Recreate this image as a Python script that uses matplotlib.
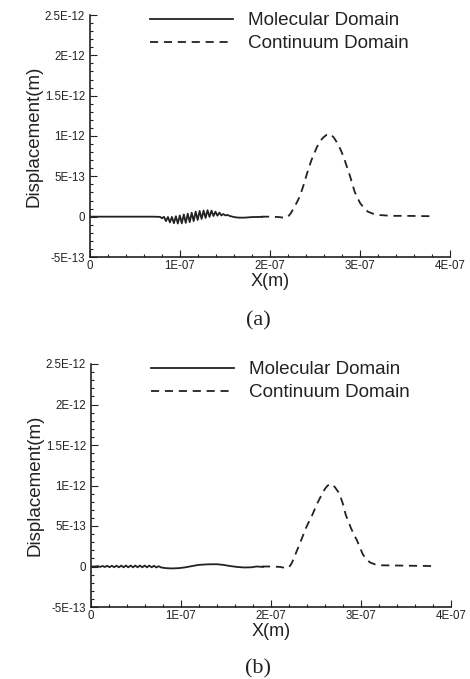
import matplotlib
matplotlib.use("Agg")
from matplotlib import pyplot as plt
from matplotlib.ticker import MultipleLocator

# Data (x in units of 1E-07 m, y in units of 1E-12 m)
mol_x_a = [0.00, 0.40, 0.70, 0.78, 0.800, 0.822, 0.844, 0.866, 0.888, 0.910,
           0.932, 0.954, 0.976, 0.998, 1.020, 1.042, 1.064, 1.086, 1.108, 1.130,
           1.152, 1.174, 1.196, 1.218, 1.240, 1.262, 1.284, 1.306, 1.328, 1.350,
           1.372, 1.394, 1.416, 1.438, 1.460, 1.482, 1.504, 1.526, 1.55, 1.60,
           1.65, 1.72, 1.80, 1.91]
mol_y_a = [0.0, 0.0, 0.0, -0.003, -0.020, -0.002, -0.055, -0.004, -0.071, -0.003,
           -0.081, 0.005, -0.085, 0.015, -0.083, 0.028, -0.077, 0.037, -0.068, 0.049,
           -0.055, 0.063, -0.041, 0.071, -0.028, 0.076, -0.016, 0.080, -0.003, 0.075,
           0.008, 0.062, 0.012, 0.050, 0.015, 0.033, 0.015, 0.022, 0.010, -0.005,
           -0.012, -0.012, -0.005, -0.003]

mol_x_b = [0.00, 0.05, 0.076, 0.102, 0.128, 0.154, 0.180, 0.206, 0.232, 0.258,
           0.284, 0.310, 0.336, 0.362, 0.388, 0.414, 0.440, 0.466, 0.492, 0.518,
           0.544, 0.570, 0.596, 0.622, 0.648, 0.674, 0.700, 0.726, 0.752, 0.78,
           0.83, 0.90, 0.98, 1.05, 1.12, 1.20, 1.30, 1.40, 1.47, 1.55,
           1.62, 1.70, 1.78, 1.84, 1.91]
mol_y_b = [0.0, 0.0, 0.005, -0.005, 0.006, -0.006, 0.008, -0.008, 0.009, -0.009,
           0.010, -0.010, 0.011, -0.010, 0.012, -0.010, 0.012, -0.010, 0.012, -0.010,
           0.012, -0.010, 0.012, -0.010, 0.011, -0.010, 0.009, -0.012, 0.004, -0.012,
           -0.020, -0.024, -0.020, -0.010, 0.005, 0.020, 0.027, 0.028, 0.020, 0.005,
           -0.005, -0.012, -0.010, 0.0, -0.005]

con_x_a = [1.90, 2.00, 2.10, 2.17, 2.20, 2.23, 2.26, 2.30, 2.33, 2.37, 2.41, 2.46,
           2.52, 2.56, 2.59, 2.63, 2.67, 2.71, 2.76, 2.80, 2.83, 2.89, 2.94, 3.00,
           3.05, 3.09, 3.15, 3.22, 3.35, 3.52, 3.83]
con_y_a = [0.0, 0.0, -0.005, -0.015, 0.0, 0.04, 0.10, 0.18, 0.25, 0.38, 0.53, 0.70,
           0.86, 0.94, 0.98, 1.015, 1.025, 0.98, 0.89, 0.79, 0.70, 0.50, 0.31, 0.17,
           0.10, 0.06, 0.035, 0.02, 0.01, 0.01, 0.005]

con_x_b = [1.90, 2.00, 2.10, 2.17, 2.20, 2.23, 2.26, 2.33, 2.39, 2.46, 2.51, 2.56,
           2.60, 2.63, 2.67, 2.71, 2.76, 2.80, 2.83, 2.89, 2.96, 3.02, 3.06, 3.10,
           3.16, 3.22, 3.52, 3.83]
con_y_b = [0.0, 0.0, -0.005, -0.02, -0.01, 0.04, 0.12, 0.31, 0.48, 0.64, 0.77, 0.88,
           0.96, 1.0, 1.02, 0.98, 0.90, 0.77, 0.64, 0.47, 0.31, 0.15, 0.09, 0.05,
           0.025, 0.015, 0.01, 0.005]

xticks = [0, 1e-7, 2e-7, 3e-7, 4e-7]
xtick_labels = ["0", "1E-07", "2E-07", "3E-07", "4E-07"]
yticks = [-5e-13, 0, 5e-13, 1e-12, 1.5e-12, 2e-12, 2.5e-12]
ytick_labels = ["-5E-13", "0", "5E-13", "1E-12", "1.5E-12", "2E-12", "2.5E-12"]
captions = ["(a)", "(b)"]

plt.rcParams["font.family"] = ["Liberation Sans", "DejaVu Sans"]
ink = "#222222"

W, H = 470, 679
fig = plt.figure(figsize=(W / 100, H / 100), dpi=100)

# axes boxes in pixels: left, top, right, bottom
boxes = [(90, 15, 450, 257), (91, 364, 451, 607)]
panels = [(mol_x_a, mol_y_a, con_x_a, con_y_a), (mol_x_b, mol_y_b, con_x_b, con_y_b)]
caption_y = [321, 669]

for (l, t, r, b), (mx, my, cx, cy), cap, cap_y in zip(boxes, panels, captions, caption_y):
    ax = fig.add_axes([l / W, 1 - b / H, (r - l) / W, (b - t) / H])
    ax.plot([v * 1e-7 for v in mx], [v * 1e-12 for v in my], color=ink, lw=1.3,
            label="Molecular Domain")
    ax.plot([v * 1e-7 for v in cx], [v * 1e-12 for v in cy], color=ink, lw=1.3,
            linestyle=(0, (4.5, 3.2)), label="Continuum Domain")

    ax.set_xlim(0, 4e-7)
    ax.set_ylim(-5e-13, 2.5e-12)
    ax.set_xticks(xticks, xtick_labels)
    ax.set_yticks(yticks, ytick_labels)
    ax.xaxis.set_minor_locator(MultipleLocator(2e-8))
    ax.yaxis.set_minor_locator(MultipleLocator(1e-13))
    ax.tick_params(which="both", direction="in", color=ink, width=0.8)
    ax.tick_params(which="major", length=5, labelsize=8.3, labelcolor=ink)
    ax.tick_params(which="minor", length=2.5)
    ax.tick_params(axis="x", pad=2)
    ax.tick_params(axis="y", pad=3.5)
    for side in ["top", "right"]:
        ax.spines[side].set_visible(False)
    for side in ["left", "bottom"]:
        ax.spines[side].set_color(ink)
        ax.spines[side].set_linewidth(1.2)

    ax.set_xlabel("X(m)", fontsize=13, color=ink, labelpad=1)
    ax.set_ylabel("Displacement(m)", fontsize=13.5, color=ink, labelpad=2)

    ax.legend(loc="upper left", bbox_to_anchor=(0.1667, 1.012), frameon=False,
              fontsize=13.6, handlelength=4.4, handletextpad=0.8, borderpad=0,
              borderaxespad=0, labelspacing=0.3, labelcolor=ink)

    fig.text(258 / W, 1 - cap_y / H, cap, ha="center", va="center",
             family="Liberation Serif", fontsize=16, color=ink)

fig.savefig("out.png", dpi=100, facecolor="white")
